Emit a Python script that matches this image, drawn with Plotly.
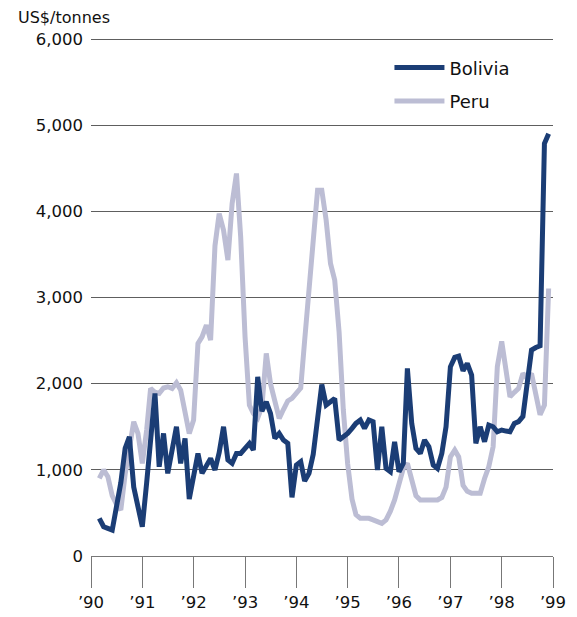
import pandas as pd
import plotly.graph_objects as go

# Monthly prices, US$/tonne, March 1990 - December 1998
months = pd.date_range("1990-03-01", "1998-12-01", freq="MS")

bolivia = [
    437, 340, 320, 300, 570, 850, 1250, 1384, 800, 550,            # Mar-Dec 90
    340, 850, 1400, 1887, 1036, 1423, 959, 1250, 1500, 1075, 1365, 660,  # 91
    920, 1191, 959, 1050, 1133, 998, 1200, 1500, 1114, 1075, 1191, 1191, # 92
    1250, 1307, 1230, 2080, 1680, 1790, 1655, 1365, 1423, 1346, 1307, 680, # 93
    1056, 1094, 870, 959, 1180, 1600, 1990, 1752, 1790, 1829, 1346, 1380, # 94
    1423, 1481, 1539, 1578, 1481, 1578, 1558, 998, 1500, 1017, 978, 1326, # 95
    978, 1075, 2177, 1539, 1250, 1191, 1346, 1268, 1056, 1017, 1191, 1500, # 96
    2196, 2305, 2320, 2150, 2235, 2100, 1307, 1500, 1326, 1520, 1500, 1442, # 97
    1462, 1450, 1442, 1539, 1560, 1620, 2000, 2390, 2420, 2440, 4787, 4900, # 98
]

peru = [
    900, 1000, 920, 700, 600, 534, 950, 1300, 1558, 1423,          # Mar-Dec 90
    1075, 1462, 1945, 1900, 1887, 1950, 1964, 1945, 2010, 1926, 1650, 1423, # 91
    1578, 2467, 2544, 2680, 2505, 3600, 3975, 3782, 3434, 4091, 4439, 3700, # 92
    2544, 1750, 1655, 1600, 1732, 2351, 2000, 1800, 1597, 1700, 1800, 1829, # 93
    1887, 1950, 2500, 3100, 3700, 4246, 4246, 3898, 3395, 3202, 2600, 1700, # 94
    1070, 660, 480, 437, 437, 437, 420, 400, 379, 420, 520, 650,       # 95
    830, 1017, 1075, 900, 700, 650, 650, 650, 650, 650, 680, 800,       # 96
    1150, 1230, 1150, 820, 750, 727, 727, 727, 900, 1036, 1268, 2200,   # 97
    2490, 2158, 1848, 1900, 1945, 2119, 2061, 2119, 1848, 1640, 1752, 2738, # 98
]
peru = peru[:len(months) - 1] + [3105]

year_ticks = pd.date_range("1990-01-01", "1999-01-01", freq="YS")
year_labels = ["\u201990", "\u201991", "\u201992", "\u201993", "\u201994",
               "\u201995", "\u201996", "\u201997", "\u201998", "\u201999"]
y_ticks = [0, 1000, 2000, 3000, 4000, 5000, 6000]

BOL = "#1b3d75"
PER = "#bcbdd4"
FONT = "DejaVu Sans"

fig = go.Figure()
fig.add_trace(go.Scatter(x=months, y=peru, mode="lines", name="Peru",
                         line=dict(color=PER, width=5), legendrank=2,
                         legendgroup="p"))
fig.add_trace(go.Scatter(x=months, y=bolivia, mode="lines", name="Bolivia",
                         line=dict(color=BOL, width=5), legendrank=1,
                         legendgroup="b"))

fig.update_layout(
    width=569, height=609,
    margin=dict(l=83, r=24, t=30, b=61),
    paper_bgcolor="white", plot_bgcolor="white",
    font=dict(family=FONT, size=16.5, color="#111111"),
    showlegend=True,
    legend=dict(x=0.646, y=0.978, xanchor="left", yanchor="top",
                bgcolor="rgba(0,0,0,0)", tracegroupgap=7, itemwidth=50,
                font=dict(size=18)),
    xaxis=dict(type="date", range=["1990-01-01", "1999-01-01"],
               tickvals=year_ticks, ticktext=year_labels,
               ticks="outside", ticklen=31, tickcolor="#777777", tickwidth=1.2,
               showline=True, linecolor="#777777", linewidth=1.2,
               showgrid=False, zeroline=False, automargin=False),
    yaxis=dict(range=[0, 6012], tickvals=y_ticks, tickformat=",d",
               showgrid=True, gridcolor="#5e5e5e", gridwidth=1.2,
               zeroline=False, showline=False, ticks="",
               ticklabelstandoff=7, automargin=False),
    annotations=[dict(text="US$/tonnes", xref="paper", yref="paper",
                      x=-0.163, y=1.04, xanchor="left", yanchor="middle",
                      showarrow=False, font=dict(size=16))],
)

fig.write_html("out.html")
